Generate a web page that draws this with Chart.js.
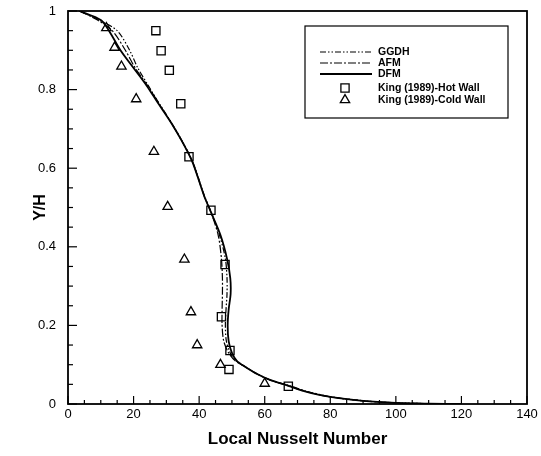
<!DOCTYPE html>
<html>
<head>
<meta charset="utf-8">
<script src="https://cdn.jsdelivr.net/npm/chart.js@4/dist/chart.umd.min.js"></script>
<style>
    body { margin: 0; background: #fff; }
    #wrap { width: 541px; height: 456px; }
</style>
</head>
<body>
<div id="wrap"><canvas id="nusselt-chart"></canvas></div>
<script>
// DATA
var xTicks = [0, 20, 40, 60, 80, 100, 120, 140];
var yTicks = [0, 0.2, 0.4, 0.6, 0.8, 1];

// profile Y/H shared by the three model curves
var curveY = [1.0, 0.977, 0.95, 0.9, 0.855, 0.81, 0.765, 0.715, 0.665, 0.615, 0.53, 0.49, 0.43, 0.37, 0.32, 0.28,
    0.24, 0.2, 0.16, 0.13, 0.11, 0.095, 0.075, 0.06, 0.047, 0.033, 0.018, 0.008, 0.003, 0.001, 0];
var ggdhNu = [3.5, 9.5, 15, 18.8, 21.3, 24.5, 27.8, 31.6, 35.1, 38.1, 41.6, 43.6, 46.2, 48, 48.5, 48.5,
    48.2, 48, 48.3, 49.5, 51.2, 54, 58, 62, 67.5, 72.5, 80.5, 90.5, 100, 110, 120];
var afmNu = [3.5, 9, 13.5, 17.5, 20.5, 24.3, 27.7, 31.5, 35, 38, 41.5, 43.5, 45.8, 46.8, 47.1, 47.1,
    47, 47, 47.5, 49, 51, 54, 58, 62, 67, 72, 80, 90, 100, 110, 120];
var dfmNu = [3.5, 10, 12.5, 16, 20, 24, 27.5, 31.5, 35, 38, 41.5, 43.5, 46.5, 48.5, 49.5, 49.6,
    49, 48.7, 49, 50, 51.5, 54, 58, 62, 67, 72, 80, 90, 100, 110, 120];

// King (1989) experiments
var hotNu = [26.8, 28.4, 30.9, 34.4, 36.9, 43.6, 47.9, 46.8, 49.4, 49.1, 67.2];
var hotY = [0.95, 0.899, 0.849, 0.764, 0.629, 0.493, 0.355, 0.222, 0.136, 0.088, 0.045];
var coldNu = [11.7, 14.2, 16.3, 20.8, 26.2, 30.4, 35.5, 37.5, 39.4, 46.5, 60];
var coldY = [0.957, 0.907, 0.859, 0.776, 0.642, 0.502, 0.368, 0.234, 0.15, 0.10, 0.052];

function toPoints(xs, ys) {
    return xs.map(function (x, i) { return { x: x, y: ys[i] }; });
}

var tickFont = "'Liberation Sans', Arial, sans-serif";
var boldFont = "'Liberation Sans', Arial, sans-serif";

// frame + inward ticks (major and minor)
var frameTicks = {
    id: 'frameTicks',
    afterDraw: function (chart) {
        var ctx = chart.ctx, a = chart.chartArea;
        var xs = chart.scales.x, ys = chart.scales.y;
        ctx.save();
        ctx.strokeStyle = '#000';
        ctx.lineWidth = 1.2;
        var v, p, major;
        for (v = 0; v <= 140.001; v += 5) {
            p = xs.getPixelForValue(v);
            major = Math.abs(v % 20) < 0.001;
            ctx.beginPath();
            ctx.moveTo(p, a.bottom);
            ctx.lineTo(p, a.bottom - (major ? 8 : 4));
            ctx.stroke();
        }
        for (v = 0; v <= 1.0001; v += 0.05) {
            p = ys.getPixelForValue(v);
            major = Math.abs(Math.round(v * 100) % 20) < 0.001;
            ctx.beginPath();
            ctx.moveTo(a.left, p);
            ctx.lineTo(a.left + (major ? 9 : 5), p);
            ctx.stroke();
        }
        ctx.lineWidth = 1.8;
        ctx.strokeRect(a.left, a.top, a.right - a.left, a.bottom - a.top);
        ctx.restore();
    }
};

// legend box drawn inside the plot, upper right
var boxLegend = {
    id: 'boxLegend',
    afterDraw: function (chart) {
        var ctx = chart.ctx;
        var bx = 305, by = 26, bw = 203, bh = 92;
        ctx.save();
        ctx.fillStyle = '#fff';
        ctx.fillRect(bx, by, bw, bh);
        ctx.strokeStyle = '#000';
        ctx.lineWidth = 1.2;
        ctx.strokeRect(bx, by, bw, bh);
        var rows = [52, 63, 74, 88, 100];
        ctx.font = 'bold 10.5px ' + boldFont;
        ctx.textBaseline = 'middle';
        chart.data.datasets.forEach(function (ds, i) {
            var y = rows[i];
            ctx.strokeStyle = '#000';
            if (ds.showLine) {
                ctx.lineWidth = ds.borderWidth;
                ctx.setLineDash(ds.borderDash || []);
                ctx.beginPath();
                ctx.moveTo(320, y);
                ctx.lineTo(372, y);
                ctx.stroke();
                ctx.setLineDash([]);
            } else {
                ctx.fillStyle = 'rgba(0,0,0,0)';
                ctx.lineWidth = ds.borderWidth;
                Chart.helpers.drawPoint(ctx, {
                    pointStyle: ds.pointStyle,
                    radius: ds.pointRadius,
                    borderWidth: ds.borderWidth,
                    rotation: 0
                }, 345, y);
            }
            ctx.fillStyle = '#000';
            ctx.fillText(ds.label, 378, y);
        });
        ctx.restore();
    }
};

var nusseltChart;
function loadNusseltChart() {
    var context = document.getElementById("nusselt-chart").getContext("2d");
    nusseltChart = new Chart(context, {
        type: 'scatter',
        data: {
            datasets: [{
                label: 'GGDH',
                data: toPoints(ggdhNu, curveY),
                showLine: true,
                borderColor: '#000',
                borderWidth: 1.2,
                borderDash: [6, 2, 1.5, 2, 1.5, 2],
                pointRadius: 0,
                tension: 0.3
            }, {
                label: 'AFM',
                data: toPoints(afmNu, curveY),
                showLine: true,
                borderColor: '#000',
                borderWidth: 1.2,
                borderDash: [8, 2, 2, 2],
                pointRadius: 0,
                tension: 0.3
            }, {
                label: 'DFM',
                data: toPoints(dfmNu, curveY),
                showLine: true,
                borderColor: '#000',
                borderWidth: 1.8,
                pointRadius: 0,
                tension: 0.3
            }, {
                label: 'King (1989)-Hot Wall',
                data: toPoints(hotNu, hotY),
                showLine: false,
                pointStyle: 'rect',
                pointRadius: 5.8,
                borderWidth: 1.3,
                borderColor: '#000',
                backgroundColor: 'rgba(0,0,0,0)'
            }, {
                label: 'King (1989)-Cold Wall',
                data: toPoints(coldNu, coldY),
                showLine: false,
                pointStyle: 'triangle',
                pointRadius: 5.4,
                borderWidth: 1.3,
                borderColor: '#000',
                backgroundColor: 'rgba(0,0,0,0)'
            }]
        },
        options: {
            responsive: true,
            maintainAspectRatio: false,
            animation: false,
            layout: { padding: { left: 0, right: 14, top: 11, bottom: 0 } },
            plugins: {
                legend: { display: false },
                tooltip: { enabled: false }
            },
            scales: {
                x: {
                    type: 'linear',
                    min: 0,
                    max: 140,
                    afterBuildTicks: function (s) { s.ticks = xTicks.map(function (v) { return { value: v }; }); },
                    afterFit: function (s) { s.height = 52; s.paddingLeft = 0; s.paddingRight = 0; },
                    grid: { display: false, drawTicks: false },
                    border: { display: false },
                    ticks: {
                        color: '#000',
                        padding: 3,
                        maxRotation: 0,
                        font: { family: tickFont, size: 13 }
                    },
                    title: {
                        display: true,
                        text: 'Local Nusselt Number',
                        color: '#000',
                        padding: { top: 0, bottom: 6 },
                        font: { family: boldFont, size: 17, weight: 'bold' }
                    }
                },
                y: {
                    type: 'linear',
                    min: 0,
                    max: 1,
                    afterBuildTicks: function (s) { s.ticks = yTicks.map(function (v) { return { value: v }; }); },
                    afterFit: function (s) { s.width = 68; s.paddingTop = 0; s.paddingBottom = 0; },
                    grid: { display: false, drawTicks: false },
                    border: { display: false },
                    ticks: {
                        color: '#000',
                        padding: 12,
                        font: { family: tickFont, size: 13 },
                        callback: function (v) { return String(Math.round(v * 10) / 10); }
                    },
                    title: {
                        display: true,
                        text: 'Y/H',
                        color: '#000',
                        padding: { top: 31, bottom: 0 },
                        font: { family: boldFont, size: 16, weight: 'bold' }
                    }
                }
            }
        },
        plugins: [frameTicks, boxLegend]
    });
}

loadNusseltChart();
</script>
</body>
</html>
